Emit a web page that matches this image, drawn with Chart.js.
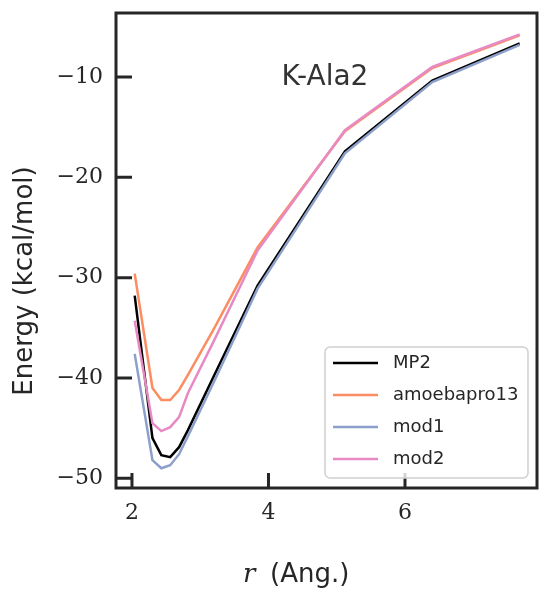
<!DOCTYPE html>
<html>
<head>
<meta charset="utf-8">
<script src="https://cdn.jsdelivr.net/npm/chart.js@4.4.0/dist/chart.umd.min.js"></script>
<style>
  html, body { margin: 0; padding: 0; background: #fff; }
</style>
</head>
<body>
<canvas id="chart" width="539" height="590"></canvas>
<script>
// distances (Ang.) and energies (kcal/mol)
const rValues     = [2.04, 2.30, 2.43, 2.56, 2.69, 2.82, 3.20, 3.84, 5.12, 6.40, 7.68];
const mp2         = [-31.8, -46.0, -47.7, -47.9, -46.9, -45.2, -39.8, -30.8, -17.4, -10.35, -6.65];
const amoebapro13 = [-29.6, -41.0, -42.2, -42.2, -41.2, -39.7, -35.1, -27.0, -15.4, -9.1, -5.85];
const mod1        = [-37.6, -48.2, -49.0, -48.7, -47.6, -45.8, -40.4, -31.1, -17.6, -10.5, -6.8];
const mod2        = [-34.3, -44.5, -45.3, -44.9, -43.9, -41.5, -36.3, -27.3, -15.3, -9.0, -5.75];

const seriesNames  = ['MP2', 'amoebapro13', 'mod1', 'mod2'];
const seriesValues = [mp2, amoebapro13, mod1, mod2];
const seriesColors = ['#000000', '#fc8d62', '#8da0cb', '#e78ac3'];

const xTicks = [2, 4, 6];
const yTicks = [-50, -40, -30, -20, -10];
const plotTitle = 'K-Ala2';

const INK = '#262626';
const fmtTick = v => v < 0 ? '\u2212' + Math.abs(v) : String(v);

const decor = {
  id: 'decor',
  afterDatasetsDraw(chart) {
    const { ctx, chartArea: a, scales: { x, y } } = chart;
    ctx.save();

    // inward ticks + frame
    ctx.strokeStyle = INK;
    ctx.lineWidth = 3;
    ctx.beginPath();
    y.ticks.forEach(t => {
      const py = y.getPixelForValue(t.value);
      ctx.moveTo(a.left, py); ctx.lineTo(a.left + 16, py);
    });
    x.ticks.forEach(t => {
      const px = x.getPixelForValue(t.value);
      ctx.moveTo(px, a.bottom); ctx.lineTo(px, a.bottom - 15);
    });
    ctx.stroke();
    ctx.strokeRect(a.left, a.top, a.right - a.left, a.bottom - a.top);

    // title inside the axes
    ctx.fillStyle = '#333';
    ctx.font = '28px "DejaVu Sans"';
    ctx.textAlign = 'center';
    ctx.textBaseline = 'alphabetic';
    ctx.fillText(plotTitle, 325, 85);

    // y title
    ctx.save();
    ctx.translate(32, 281);
    ctx.rotate(-Math.PI / 2);
    ctx.fillStyle = INK;
    ctx.font = '26px "DejaVu Sans"';
    ctx.fillText('Energy (kcal/mol)', 0, 0);
    ctx.restore();

    // x title: italic r + (Ang.)
    ctx.fillStyle = INK;
    ctx.textAlign = 'left';
    ctx.font = 'italic 26px "DejaVu Serif"';
    ctx.fillText('r', 243, 582);
    ctx.font = '26px "DejaVu Sans"';
    ctx.fillText('(Ang.)', 270, 582);

    // legend
    const lx = 325, ly = 347, lw = 203, lh = 131;
    ctx.beginPath();
    ctx.roundRect(lx, ly, lw, lh, 5);
    ctx.fillStyle = 'rgba(255,255,255,0.8)';
    ctx.fill();
    ctx.strokeStyle = '#d0d0d0';
    ctx.lineWidth = 1.5;
    ctx.stroke();
    ctx.font = '18px "DejaVu Sans"';
    ctx.textBaseline = 'middle';
    chart.data.datasets.forEach((ds, i) => {
      const ry = 363 + i * 32;
      ctx.strokeStyle = ds.borderColor;
      ctx.lineWidth = 2.5;
      ctx.beginPath();
      ctx.moveTo(333, ry); ctx.lineTo(378, ry);
      ctx.stroke();
      ctx.fillStyle = INK;
      ctx.fillText(ds.label, 393, ry);
    });
    ctx.restore();
  }
};

new Chart(document.getElementById('chart'), {
  type: 'line',
  data: {
    datasets: seriesNames.map((name, i) => ({
      label: name,
      data: rValues.map((r, j) => ({ x: r, y: seriesValues[i][j] })),
      borderColor: seriesColors[i],
      borderWidth: 2.5,
      pointRadius: 0,
      tension: 0,
      fill: false,
      order: seriesNames.length - i,
    })),
  },
  options: {
    responsive: false,
    animation: false,
    devicePixelRatio: 1,
    layout: { padding: { top: 13, right: 2, left: 0, bottom: 0 } },
    plugins: { legend: { display: false }, tooltip: { enabled: false } },
    scales: {
      x: {
        type: 'linear',
        min: 1.766, max: 7.934,
        grid: { display: false, drawTicks: false },
        border: { display: false },
        ticks: { color: INK, font: { family: 'DejaVu Serif', size: 22 }, padding: 12, callback: fmtTick },
        afterBuildTicks: s => { s.ticks = xTicks.map(v => ({ value: v })); },
        afterFit: s => { s.height = 102; s.paddingLeft = 0; s.paddingRight = 0; },
      },
      y: {
        type: 'linear',
        min: -50.97, max: -3.62,
        grid: { display: false, drawTicks: false },
        border: { display: false },
        ticks: { color: INK, font: { family: 'DejaVu Serif', size: 22 }, padding: 13, callback: fmtTick },
        afterBuildTicks: s => { s.ticks = yTicks.map(v => ({ value: v })); },
        afterFit: s => { s.width = 116; s.paddingTop = 0; s.paddingBottom = 0; },
      },
    },
  },
  plugins: [decor],
});
</script>
</body>
</html>
